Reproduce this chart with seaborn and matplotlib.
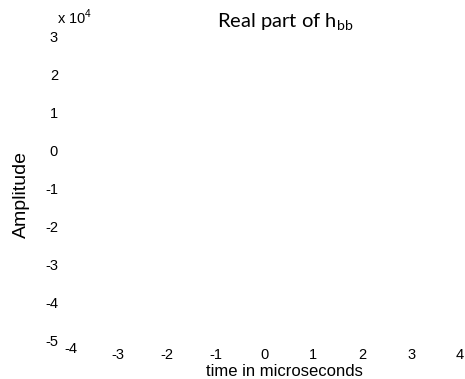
import matplotlib
matplotlib.use("Agg")
import matplotlib.pyplot as plt
import matplotlib.transforms as mtransforms
import seaborn as sns

# Data (the reference shows empty axes)
time_us = []
amplitude = []
x_ticks = [-4, -3, -2, -1, 0, 1, 2, 3, 4]
y_ticks = [-50000, -40000, -30000, -20000, -10000, 0, 10000, 20000, 30000]
y_scale = 10000

sns.set_theme(style="white")
plt.rcParams['font.family'] = ['Liberation Sans', 'DejaVu Sans']
plt.rcParams['text.color'] = 'black'
plt.rcParams['xtick.color'] = 'black'
plt.rcParams['ytick.color'] = 'black'
plt.rcParams['axes.labelcolor'] = 'black'

fig = plt.figure(figsize=(4.65, 3.79), dpi=100)
ax = fig.add_axes([69/465, 1 - 340/379, (460 - 69)/465, (340 - 37)/379])
sns.lineplot(x=time_us, y=amplitude, ax=ax)

ax.set_xlim(-4, 4)
ax.set_ylim(-50000, 30000)
ax.set_xticks(x_ticks)
ax.set_xticklabels([f"{t:g}" for t in x_ticks], fontsize=10.5)
ax.set_yticks(y_ticks)
ax.set_yticklabels([f"{v / y_scale:g}" for v in y_ticks], fontsize=10.5)
ax.tick_params(axis='both', length=0, colors='black')
ax.tick_params(axis='x', pad=5.5)
ax.tick_params(axis='y', pad=8)
for s in ax.spines.values():
    s.set_visible(False)
ax.grid(False)

# first x label sits slightly higher in the reference
lbl = ax.get_xticklabels()[0]
lbl.set_transform(lbl.get_transform() + mtransforms.ScaledTranslation(0.02, 6/100, fig.dpi_scale_trans))

ax.set_xlabel("time in microseconds", fontsize=12, va='center', color='black')
ax.xaxis.set_label_coords((284 - 69) / 391, -(371 - 340) / 303)
ax.set_ylabel("Amplitude", fontsize=14, va='center', color='black')
ax.yaxis.set_label_coords(-(69 - 21) / 391, (340 - 195) / 303)
fig.text(57/465, 1 - 17/379, r"x 10$^{\mathregular{4}}$", fontsize=10.5, va='center', ha='left',
         color='black')
fig.text(285/465, 1 - 22.5/379, r"Real part of h$_{\mathregular{bb}}$", fontsize=14.5,
         family=['Lato', 'DejaVu Sans'], ha='center', va='center', color='black')

fig.savefig("out.png", dpi=100)
